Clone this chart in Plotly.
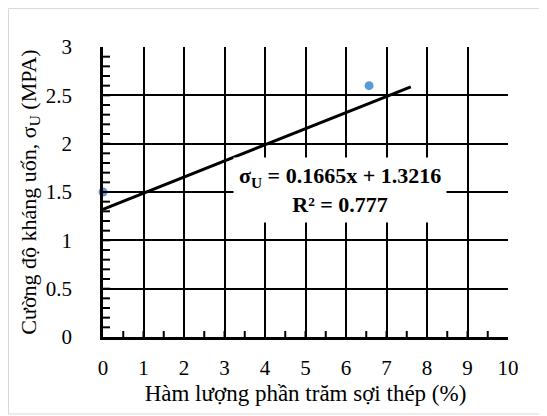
import plotly.graph_objects as go

# Data
x_points = [0.0, 6.57]
y_points = [1.5, 2.6]
trend_slope = 0.1665
trend_intercept = 1.3216
trend_r2 = 0.777
trend_x = [0.0, 7.6]
trend_y = [trend_slope * v + trend_intercept for v in trend_x]

x_range = [0, 10]
y_range = [0, 3]
x_minor_step = 0.5
y_minor_step = 0.1

# page body has an 8px margin, so the figure is sized to fit inside the window
W, H = 539, 408
L, R, T, B = 95, 39, 39, 79
OFF = 8
pw, ph = W - L - R, H - T - B

def px(page_x):
    return (page_x - OFF - L) / pw

def py(page_y):
    return (H - B - (page_y - OFF)) / ph

FONT = "Liberation Serif"

fig = go.Figure()
fig.add_trace(go.Scatter(x=trend_x, y=trend_y, mode="lines",
                         line=dict(color="black", width=3), showlegend=False,
                         hoverinfo="skip"))
fig.add_trace(go.Scatter(x=x_points, y=y_points, mode="markers",
                         marker=dict(color="#5B9BD5", size=9), showlegend=False,
                         cliponaxis=False))

fig.add_annotation(
    x=5.85, y=1.52, xref="x", yref="y",
    text=f"σ<sub>U</sub> = {trend_slope}x + {trend_intercept}<br>R² = {trend_r2}",
    showarrow=False, bgcolor="white", borderpad=5,
    font=dict(family=FONT, size=22, color="black", weight="bold"),
    align="center",
)

# Outer light border
fig.add_shape(type="rect", xref="paper", yref="paper",
              x0=px(8.5), x1=px(560), y0=py(414), y1=py(8.5),
              line=dict(color="#d9d9d9", width=1), layer="below")

# Minor tick marks drawn inside the axes, derived from the axis range and step
n_y = int(round((y_range[1] - y_range[0]) / y_minor_step))
for i in range(1, n_y):
    v = y_range[0] + i * y_minor_step
    fig.add_shape(type="line", xref="x domain", yref="y",
                  x0=0, x1=7 / pw, y0=v, y1=v,
                  line=dict(color="black", width=2), layer="above")
n_x = int(round((x_range[1] - x_range[0]) / x_minor_step))
for i in range(1, n_x):
    v = x_range[0] + i * x_minor_step
    fig.add_shape(type="line", xref="x", yref="y domain",
                  x0=v, x1=v, y0=0, y1=6 / ph,
                  line=dict(color="black", width=2), layer="above")

fig.update_layout(
    xaxis=dict(
        range=x_range, tickmode="linear", tick0=0, dtick=1,
        showgrid=True, gridcolor="black", gridwidth=1.5,
        showline=True, linecolor="black", linewidth=2.5,
        zeroline=False, ticks="", ticklabelstandoff=10,
        tickfont=dict(family=FONT, size=21, color="black"),
        title=dict(text="Hàm lượng phần trăm sợi thép (%)", standoff=6,
                   font=dict(family=FONT, size=23, color="black")),
    ),
    yaxis=dict(
        range=y_range, tickmode="linear", tick0=0, dtick=0.5,
        showgrid=True, gridcolor="black", gridwidth=1.5,
        showline=True, linecolor="black", linewidth=2.5,
        zeroline=False, ticks="", ticklabelstandoff=24,
        tickfont=dict(family=FONT, size=21, color="black"),
        title=dict(text="Cường độ kháng uốn, σ<sub>U</sub> (MPA)", standoff=4,
                   font=dict(family=FONT, size=22, color="black")),
    ),
    width=W, height=H,
    margin=dict(l=L, r=R, t=T, b=B),
    plot_bgcolor="white", paper_bgcolor="white",
    showlegend=False,
    font=dict(family=FONT),
)

fig.write_html("out.html")
